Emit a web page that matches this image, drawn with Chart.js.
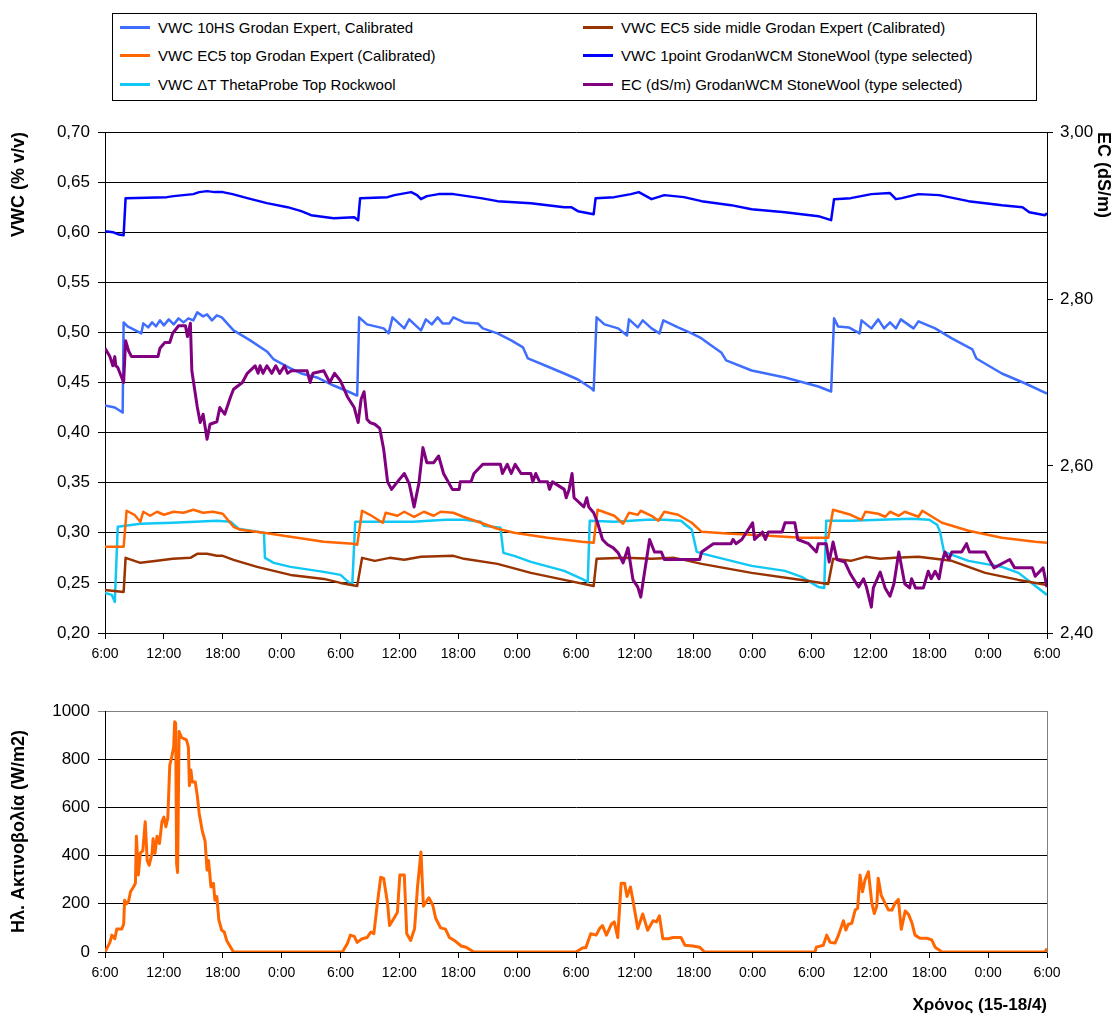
<!DOCTYPE html>
<html>
<head>
<meta charset="utf-8">
<script src="https://cdn.jsdelivr.net/npm/chart.js@4.4.1/dist/chart.umd.min.js"></script>
<style>
  body { margin: 0; background: #fff; width: 1115px; height: 1016px; position: relative; overflow: hidden;
         font-family: Arial, "Liberation Sans", sans-serif; }
  #legend { position: absolute; left: 112px; top: 13px; width: 923px; height: 86px; border: 1px solid #000; }
  .item { position: absolute; height: 20px; display: flex; align-items: center; font-size: 15px; color: #000; white-space: nowrap; }
  .swatch { width: 30px; height: 3px; margin-right: 8px; }
  #topWrap { position: absolute; left: 0; top: 105px; }
  #botWrap { position: absolute; left: 0; top: 670px; }
</style>
</head>
<body>
<div id="legend"></div>
<div id="topWrap"><canvas id="topChart" width="1115" height="565"></canvas></div>
<div id="botWrap"><canvas id="botChart" width="1115" height="346"></canvas></div>

<script>
// hours since 6:00 on 15/4
const vwc10hs = [[0,0.427],[1,0.425],[1.8,0.420],[1.9,0.510],[2.3,0.506],[3.3,0.501],[3.7,0.499],[3.9,0.509],[4.4,0.505],[4.8,0.510],[5.2,0.506],[5.6,0.512],[6,0.507],[6.5,0.513],[7,0.508],[7.5,0.514],[8,0.510],[8.5,0.514],[9,0.512],[9.4,0.520],[10,0.516],[10.4,0.518],[10.9,0.512],[11.4,0.517],[11.9,0.515],[13.1,0.502],[14.8,0.492],[16.5,0.481],[17.2,0.473],[18.9,0.464],[20,0.459],[21.6,0.455],[23.3,0.447],[25,0.440],[25.7,0.437],
  [25.9,0.515],[26.7,0.508],[28.4,0.504],[28.9,0.499],[29.3,0.515],[30.5,0.504],[31,0.513],[32.2,0.502],[32.7,0.513],[33.3,0.508],[33.9,0.515],[34.4,0.509],[35.1,0.509],[35.5,0.515],[36.6,0.510],[38,0.509],[38.5,0.504],[40,0.499],[41.4,0.492],[42.6,0.485],[43.1,0.474],[45.1,0.466],[46.8,0.459],[48.2,0.453],[49.6,0.444],[49.8,0.442],
  [50.1,0.515],[50.9,0.508],[52.3,0.504],[53.2,0.497],[53.4,0.513],[54.3,0.505],[54.8,0.512],[55.7,0.504],[56.5,0.499],[56.9,0.512],[58.4,0.505],[59.8,0.499],[60.8,0.494],[61.5,0.489],[62.8,0.480],[63.3,0.472],[65.9,0.462],[69.3,0.455],[72.7,0.446],[74,0.441],
  [74.3,0.514],[74.7,0.506],[75.8,0.505],[76.9,0.499],[77.1,0.512],[78.1,0.504],[78.8,0.513],[79.4,0.504],[80,0.510],[80.6,0.504],[81.1,0.513],[82.4,0.504],[82.9,0.511],[84.6,0.504],[86.3,0.494],[88.4,0.483],[88.8,0.474],[91.4,0.459],[93.8,0.449],[96,0.439]];

const vwcEc5Side = [[0,0.243],[1.9,0.241],[2.1,0.275],[3.6,0.270],[5.3,0.272],[6.9,0.274],[8.7,0.275],[9.4,0.279],[10.4,0.279],[11.4,0.277],[12,0.277],[13.1,0.273],[15.5,0.266],[18.9,0.258],[22.3,0.254],[24,0.250],[25.7,0.247],
  [26.2,0.275],[27.5,0.272],[29,0.275],[30.5,0.273],[32.2,0.276],[35.5,0.277],[36.6,0.274],[40,0.269],[43.4,0.260],[46.8,0.253],[49.8,0.247],
  [50.1,0.274],[53,0.275],[55.7,0.274],[58,0.275],[59,0.273],[60.8,0.269],[65.9,0.260],[71,0.253],[73.7,0.249],
  [74.2,0.274],[76,0.272],[77.5,0.276],[79,0.274],[80.5,0.275],[82.9,0.276],[86.3,0.272],[89.7,0.260],[93.1,0.253],[96,0.248]];

const vwcEc5Top = [[0,0.286],[1.9,0.286],[2.2,0.322],[3,0.318],[3.6,0.311],[3.9,0.321],[4.6,0.317],[5.3,0.321],[6,0.318],[7,0.321],[8,0.320],[9,0.323],[10,0.320],[11,0.321],[12,0.319],[13.1,0.306],[13.8,0.303],[16.2,0.300],[18.9,0.296],[22.3,0.291],[25.3,0.289],[25.7,0.288],
  [26.2,0.322],[27,0.318],[28.3,0.310],[28.6,0.320],[29.8,0.317],[30.5,0.321],[31.5,0.316],[32.5,0.321],[33.5,0.317],[34.2,0.321],[35.5,0.320],[36.5,0.316],[38.3,0.310],[40,0.304],[41.7,0.300],[45.1,0.295],[48.6,0.291],[49.8,0.290],
  [50.2,0.323],[51.9,0.317],[52.8,0.309],[53.4,0.320],[54.3,0.318],[54.6,0.322],[55.7,0.317],[56.4,0.312],[57,0.321],[58.4,0.318],[59.8,0.310],[60.8,0.301],[63.8,0.299],[65.9,0.298],[71,0.295],[73.7,0.295],
  [74.2,0.323],[76,0.318],[77.1,0.313],[77.5,0.321],[78.8,0.319],[79.5,0.316],[80,0.321],[80.9,0.317],[81.5,0.321],[82.9,0.316],[83.3,0.322],[85.3,0.310],[88,0.302],[91.4,0.295],[94.8,0.291],[96,0.290]];

const vwc1point = [[0,0.601],[0.8,0.600],[1.3,0.598],[1.9,0.597],[2.1,0.634],[6.3,0.635],[7,0.636],[8,0.637],[9,0.638],[9.6,0.640],[10.4,0.641],[11.2,0.640],[12,0.640],[13,0.638],[14.5,0.634],[16.5,0.629],[18.6,0.625],[20,0.621],[21,0.617],[23.3,0.614],[25.4,0.615],[25.8,0.612],
  [26,0.634],[28.8,0.635],[29.5,0.637],[31.2,0.640],[31.8,0.637],[32.2,0.633],[32.8,0.636],[34,0.638],[35.5,0.638],[38.3,0.634],[40,0.631],[43.4,0.629],[46.8,0.625],[47.5,0.625],[48.2,0.621],[49.8,0.618],
  [50,0.634],[51.9,0.635],[53.6,0.638],[54.4,0.640],[55.7,0.633],[57,0.637],[59,0.635],[60.8,0.631],[63.8,0.627],[65.9,0.623],[69.3,0.620],[72.7,0.616],[74,0.612],
  [74.3,0.633],[76,0.634],[78.1,0.638],[80,0.639],[80.6,0.633],[81.2,0.634],[82.9,0.638],[85,0.637],[88,0.631],[91.4,0.627],[93.5,0.625],[94.2,0.620],[95.8,0.617],[96,0.619]];

const vwcThetaProbe = [[0,0.240],[0.7,0.238],[1,0.231],[1.3,0.306],[3.6,0.309],[6.9,0.310],[11.4,0.312],[12.8,0.311],[13.6,0.304],[15.5,0.301],[16.2,0.300],[16.3,0.275],[17.2,0.270],[18.9,0.266],[22.3,0.261],[24,0.258],[24.8,0.251],[25.2,0.248],
  [25.5,0.311],[28,0.311],[31.4,0.311],[33,0.312],[34.7,0.313],[36.6,0.313],[38.3,0.311],[38.6,0.307],[40.3,0.305],[40.6,0.280],[41.7,0.277],[43.4,0.271],[46.8,0.262],[48.6,0.254],[49.2,0.251],
  [49.4,0.312],[51.9,0.311],[53.6,0.312],[55.2,0.313],[57,0.313],[58.7,0.312],[59.8,0.303],[60.3,0.281],[61,0.279],[62.2,0.276],[65.9,0.267],[69.3,0.262],[71,0.256],[72.7,0.246],[73.3,0.245],
  [73.5,0.312],[76,0.312],[79,0.313],[82.2,0.314],[84,0.313],[84.8,0.308],[85.1,0.301],[85.5,0.281],[88,0.272],[91.4,0.266],[93.1,0.260],[96,0.238]];

const ecWcm = [[0,2.741],[0.5,2.731],[0.8,2.720],[1,2.731],[1.1,2.720],[1.3,2.718],[1.9,2.700],[2.1,2.750],[2.4,2.738],[2.7,2.731],[5.4,2.731],[5.6,2.741],[6.1,2.748],[6.6,2.748],[6.9,2.759],[7.5,2.768],[8.2,2.768],[8.4,2.755],[8.7,2.771],[8.85,2.714],[9.4,2.671],[9.7,2.652],[10,2.662],[10.4,2.632],[10.7,2.650],[11.4,2.653],[11.7,2.670],[12.2,2.662],[12.8,2.683],[13.1,2.692],[14,2.700],[14.5,2.711],[15.3,2.720],[15.6,2.711],[15.8,2.720],[16.1,2.711],[16.5,2.720],[17,2.711],[17.4,2.720],[17.8,2.711],[18.3,2.720],[18.6,2.711],[19,2.714],[20.6,2.714],[20.9,2.700],[21.2,2.711],[22.3,2.714],[22.9,2.700],[23.4,2.711],[24,2.702],
  [24.7,2.683],[25.4,2.670],[25.8,2.652],[26.1,2.680],[26.4,2.689],[26.7,2.656],[27,2.652],[27.5,2.650],[28,2.645],[28.4,2.620],[28.8,2.581],[29.2,2.572],[29.8,2.581],[30.5,2.591],[31,2.579],[31.5,2.551],[32,2.580],[32.4,2.622],[32.8,2.604],[33.5,2.604],[34,2.612],[34.5,2.591],[35.4,2.572],[36.1,2.572],[36.2,2.581],[37.3,2.581],[37.6,2.591],[38.5,2.602],[40.3,2.602],[40.5,2.591],[41,2.602],[41.4,2.591],[41.8,2.602],[42.4,2.591],[43.4,2.591],[43.6,2.581],[43.9,2.591],[44.3,2.581],[45.1,2.581],[45.3,2.572],[45.6,2.581],[46.8,2.572],[47,2.562],[47.3,2.572],[47.6,2.591],[47.8,2.562],[48.8,2.551],[49.1,2.562],[49.3,2.551],[49.8,2.544],
  [50.2,2.532],[50.7,2.512],[51.2,2.506],[51.8,2.502],[52.3,2.496],[52.8,2.484],[53.3,2.502],[53.8,2.464],[54.3,2.455],[54.6,2.443],[55,2.474],[55.5,2.512],[56,2.497],[56.7,2.497],[57,2.488],[60.6,2.488],[60.8,2.497],[62,2.507],[63.8,2.507],[64,2.512],[64.3,2.507],[64.9,2.512],[66,2.532],[66.2,2.512],[67,2.521],[67.3,2.512],[67.6,2.521],[69,2.521],[69.3,2.532],[70.3,2.532],[70.6,2.512],[71.7,2.507],[72.5,2.497],[72.7,2.507],[73.5,2.507],[73.8,2.485],
  [74.2,2.509],[74.6,2.488],[75.4,2.485],[76,2.470],[76.8,2.455],[77.3,2.465],[77.6,2.455],[78.1,2.431],[78.3,2.454],[79,2.473],[79.5,2.454],[80,2.444],[80.4,2.459],[80.9,2.497],[81.5,2.459],[82,2.454],[82.2,2.465],[82.6,2.454],[83.4,2.454],[83.9,2.474],[84.2,2.465],[84.6,2.474],[85,2.465],[85.3,2.485],[85.6,2.497],[86,2.488],[86.3,2.497],[87.3,2.497],[87.8,2.507],[88.1,2.497],[89.7,2.497],[90.1,2.488],[90.6,2.478],[92.2,2.488],[92.7,2.478],[94.5,2.478],[94.8,2.468],[95.6,2.478],[96,2.455]];

const radiation = [[0,0],[0.5,40],[0.7,70],[1,55],[1.2,95],[1.7,95],[1.9,115],[2,215],[2.2,200],[2.4,210],[2.6,250],[2.9,270],[3.1,285],[3.2,480],[3.4,320],[3.6,410],[3.85,420],[4.1,540],[4.3,380],[4.5,360],[4.8,410],[4.9,470],[5.1,410],[5.3,480],[5.55,450],[5.8,540],[6,560],[6.2,520],[6.4,555],[6.6,775],[6.8,810],[7,850],[7.1,955],[7.2,950],[7.3,365],[7.4,330],[7.55,915],[7.8,890],[8.3,880],[8.5,850],[8.6,690],[8.75,755],[8.9,705],[9.2,705],[9.4,650],[9.6,575],[9.9,505],[10.2,460],[10.4,340],[10.55,380],[10.8,270],[11.05,285],[11.2,215],[11.4,230],[11.6,133],[11.9,90],[12.15,83],[12.4,48],[12.8,20],[13.1,0],
  [24.2,0],[24.7,35],[25,70],[25.4,65],[25.7,40],[26.2,55],[26.7,60],[27.1,83],[27.4,76],[27.75,200],[28.1,310],[28.4,305],[28.8,200],[29,110],[29.45,140],[29.8,165],[30.05,320],[30.5,320],[30.75,76],[31.15,48],[31.55,97],[31.85,270],[32.2,415],[32.45,190],[33,225],[33.4,195],[33.7,140],[34.2,100],[34.7,95],[35.1,60],[35.6,48],[36.3,25],[36.8,20],[37.3,7],[37.6,0],
  [48,0],[48.7,18],[49,18],[49.5,76],[50.05,70],[50.4,97],[50.7,110],[51.1,70],[51.6,115],[51.9,125],[52.25,60],[52.6,285],[52.95,285],[53.2,230],[53.55,270],[53.8,215],[54.3,97],[54.8,158],[55.3,90],[55.85,130],[56.2,125],[56.5,150],[56.85,55],[57.4,55],[57.9,60],[58.7,60],[59.1,28],[59.9,25],[60.6,20],[61.1,0],
  [72.35,0],[72.5,20],[73.2,28],[73.55,70],[73.9,40],[74.4,37],[74.75,70],[75.25,130],[75.5,91],[75.75,115],[76.1,119],[76.45,174],[76.7,181],[76.95,319],[77.2,250],[77.45,299],[77.8,333],[78.15,202],[78.4,160],[78.65,190],[78.8,306],[79.1,236],[79.5,202],[79.85,174],[80.2,174],[80.5,202],[80.85,218],[81.15,94],[81.55,170],[81.9,155],[82.25,119],[82.55,70],[83.05,57],[83.75,57],[84.25,50],[84.6,20],[85.3,0],[95.8,0],[96,15]];

const vwcTicks = [0.20, 0.25, 0.30, 0.35, 0.40, 0.45, 0.50, 0.55, 0.60, 0.65, 0.70];
const ecTicks = [2.40, 2.60, 2.80, 3.00];
const radTicks = [0, 200, 400, 600, 800, 1000];

const FONT = 'Arial, "Liberation Sans", sans-serif';
Chart.defaults.font.family = FONT;
Chart.defaults.color = '#000';

const pts = arr => arr.map(([x, y]) => ({ x, y }));
const timeTick = v => ((6 + v) % 24) + ':00';
const comma = v => v.toFixed(2).replace('.', ',');

const line = (label, arr, color, width, axis, order) => ({
  label, data: pts(arr), borderColor: color, backgroundColor: color,
  borderWidth: width, yAxisID: axis, order: order || 0,
  pointRadius: 0, tension: 0, borderJoinStyle: 'round', fill: false,
});

const xAxis = (height, titleText) => ({
  type: 'linear', min: 0, max: 96,
  ticks: { stepSize: 6, callback: timeTick, font: { size: 14 }, color: '#000', padding: 7, maxRotation: 0, autoSkip: false },
  grid: { drawOnChartArea: false, tickLength: 6, color: '#000' },
  border: { color: '#000' },
  title: titleText ? { display: true, text: titleText, align: 'end', color: '#000',
                       font: { size: 17, weight: 'bold' }, padding: { top: 0, bottom: 0 } } : { display: false },
  afterFit: s => { s.height = height; },
});

// ---------- top chart: VWC + EC ----------
const topChart = new Chart(document.getElementById('topChart'), {
  type: 'line',
  data: {
    datasets: [
      line('VWC 10HS Grodan Expert, Calibrated', vwc10hs, '#3F6EFF', 2.5, 'y'),
      line('VWC EC5 side midle Grodan Expert (Calibrated)', vwcEc5Side, '#993300', 2.5, 'y'),
      line('VWC EC5 top Grodan Expert (Calibrated)', vwcEc5Top, '#FF6600', 2.5, 'y'),
      line('VWC 1point GrodanWCM StoneWool (type selected)', vwc1point, '#0000FF', 2.5, 'y'),
      line('VWC \u0394T ThetaProbe Top Rockwool', vwcThetaProbe, '#11C8F5', 2.5, 'y'),
      line('EC (dS/m) GrodanWCM StoneWool (type selected)', ecWcm, '#800080', 3, 'ec', -1),
    ],
  },
  options: {
    responsive: false, animation: false,
    layout: { padding: { top: 27, left: 0, right: 0, bottom: 0 } },
    plugins: { legend: { display: false }, tooltip: { enabled: false } },
    scales: {
      x: xAxis(37),
      y: {
        position: 'left', min: vwcTicks[0], max: vwcTicks[vwcTicks.length - 1],
        afterBuildTicks: s => { s.ticks = vwcTicks.map(value => ({ value })); },
        ticks: { callback: comma, font: { size: 17 }, color: '#000', padding: 8 },
        grid: { color: '#000', tickLength: 7 },
        border: { color: '#000' },
        title: { display: true, text: 'VWC (% v/v)', align: 'end', color: '#000',
                 font: { size: 18, weight: 'bold' }, padding: { top: 8, bottom: 0 } },
        afterFit: s => { s.width = 105; },
      },
      ec: {
        position: 'right', min: ecTicks[0], max: ecTicks[ecTicks.length - 1],
        afterBuildTicks: s => { s.ticks = ecTicks.map(value => ({ value })); },
        ticks: { callback: comma, font: { size: 17 }, color: '#000', padding: 7 },
        grid: { drawOnChartArea: false, color: '#000', tickLength: 6 },
        border: { color: '#000' },
        title: { display: true, text: 'EC (dS/m)', align: 'end', color: '#000',
                 font: { size: 18, weight: 'bold' }, padding: { top: 1, bottom: 0 } },
        afterFit: s => { s.width = 68; },
      },
    },
  },
});

// ---------- legend (two columns, row-major like the original) ----------
const legendBox = document.getElementById('legend');
topChart.data.datasets.forEach((ds, i) => {
  const item = document.createElement('div');
  item.className = 'item';
  item.style.left = (i % 2 ? 470 : 7) + 'px';
  item.style.top = (3 + Math.floor(i / 2) * 28.5) + 'px';
  item.innerHTML = '<span class="swatch" style="background:' + ds.borderColor + '"></span>' + ds.label;
  legendBox.appendChild(item);
});

// ---------- bottom chart: radiation ----------
new Chart(document.getElementById('botChart'), {
  type: 'line',
  data: {
    datasets: [line('\u0397\u03bb. \u0391\u03ba\u03c4\u03b9\u03bd\u03bf\u03b2\u03bf\u03bb\u03af\u03b1', radiation, '#FF6600', 3, 'y')],
  },
  options: {
    responsive: false, animation: false,
    layout: { padding: { top: 41, left: 0, right: 0, bottom: 0 } },
    plugins: { legend: { display: false }, tooltip: { enabled: false } },
    scales: {
      x: xAxis(64, 'Χρόνος (15-18/4)'),
      y: {
        position: 'left', min: radTicks[0], max: radTicks[radTicks.length - 1],
        afterBuildTicks: s => { s.ticks = radTicks.map(value => ({ value })); },
        ticks: { callback: v => String(v), font: { size: 17 }, color: '#000', padding: 8 },
        grid: { color: ctx => (ctx.tick && ctx.tick.value === 1000 ? '#808080' : '#000'), tickLength: 7 },
        border: { color: '#000' },
        title: { display: true, text: 'Ηλ. Ακτινοβολία (W/m2)', color: '#000',
                 font: { size: 18, weight: 'bold' }, padding: { top: 8, bottom: 0 } },
        afterFit: s => { s.width = 105; },
      },
      frame: {
        position: 'right', min: 0, max: 1000,
        ticks: { display: false },
        grid: { drawOnChartArea: false, drawTicks: false },
        border: { color: '#808080' },
        afterFit: s => { s.width = 68; },
      },
    },
  },
});
</script>
</body>
</html>
